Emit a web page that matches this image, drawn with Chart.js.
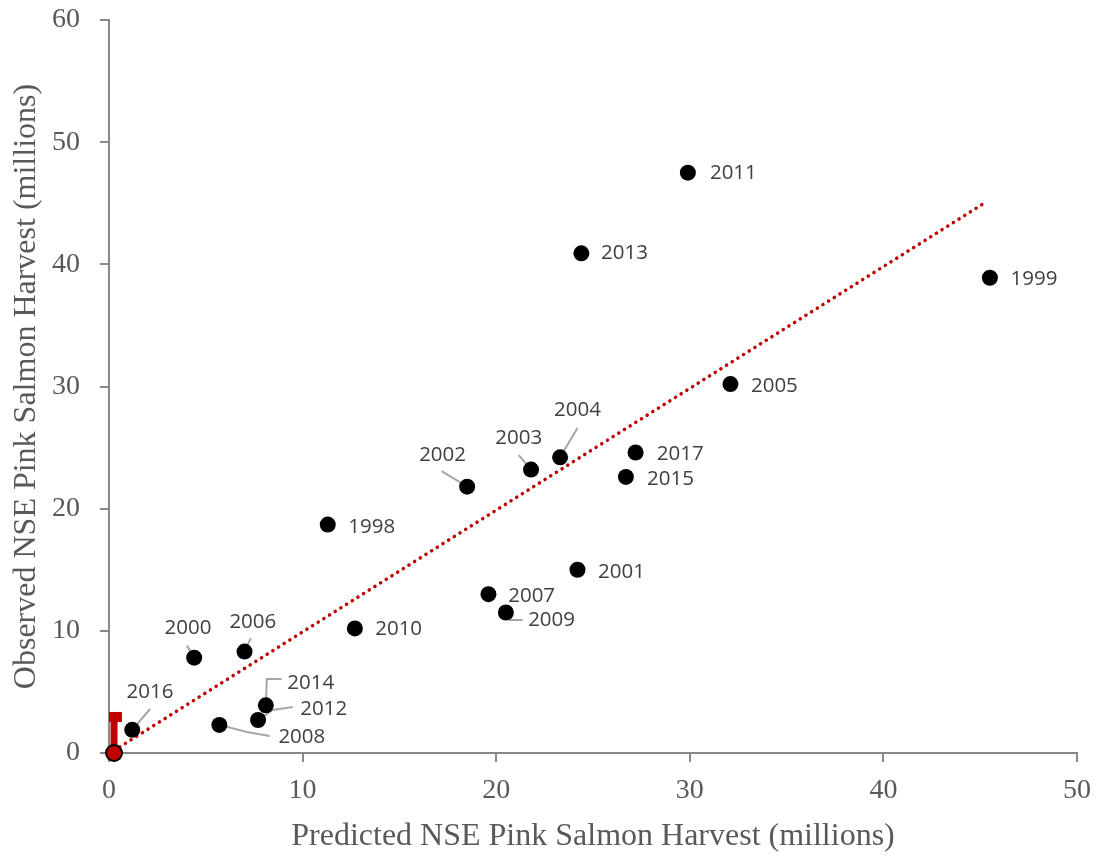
<!DOCTYPE html>
<html lang="en">
<head>
  <meta charset="UTF-8">
  <title>NSE Pink Salmon Harvest</title>
  <script src="https://cdn.jsdelivr.net/npm/chart.js"></script>
  <style>
    body { margin: 0; background: #ffffff; }
  </style>
</head>
<body>
  <canvas id="harvestChart" width="1103" height="856"></canvas>
  <script>
    // values (millions)
    const years     = [1998, 1999, 2000, 2001, 2002, 2003, 2004, 2005, 2006, 2007, 2008, 2009, 2010, 2011, 2012, 2013, 2014, 2015, 2016, 2017];
    const predicted = [11.3, 45.5, 4.4, 24.2, 18.5, 21.8, 23.3, 32.1, 7.0, 19.6, 5.7, 20.5, 12.7, 29.9, 7.7, 24.4, 8.1, 26.7, 1.2, 27.2];
    const observed  = [18.7, 38.9, 7.8, 15.0, 21.8, 23.2, 24.2, 30.2, 8.3, 13.0, 2.3, 11.5, 10.2, 47.5, 2.7, 40.9, 3.9, 22.6, 1.9, 24.6];

    // where each year label sits (data units, text centre)
    const labelX = [13.57, 47.78, 4.08, 26.47, 17.23, 21.16, 24.2, 34.37, 7.43, 21.83, 9.96, 22.86, 14.96, 32.25, 11.09, 26.63, 10.42, 29.0, 2.12, 29.51];
    const labelY = [18.49, 38.79, 10.23, 14.81, 24.39, 25.78, 28.07, 30.03, 10.72, 12.85, 1.31, 10.88, 10.15, 47.46, 3.6, 40.92, 5.73, 22.42, 4.99, 24.47];

    // leader lines: start near the label, end at the point
    const leaders = {
      2016: [[2.12, 3.6]],
      2000: [[4.02, 8.8]],
      2006: [[7.33, 9.4]],
      2014: [[8.92, 6.05], [8.15, 6.05]],
      2012: [[9.49, 3.76], [8.46, 3.52]],
      2008: [[8.31, 1.39], [7.12, 1.72]],
      2002: [[17.18, 23.08]],
      2003: [[21.16, 24.39]],
      2004: [[24.2, 26.6]],
      2009: [[21.36, 10.88], [20.7, 10.88]]
    };

    // red marker at the origin with its bar
    const originPoint = [0.26, 0];
    const errorStem = [[0.26, 0], [0.26, 3.35]];
    const errorCap = [[0.0, 2.95], [0.67, 2.95]];

    // dotted trend line
    const trendX = [0.26, 45.3];
    const trendY = [0.2, 45.1];

    const xTicks = [0, 10, 20, 30, 40, 50];
    const yTicks = [0, 10, 20, 30, 40, 50, 60];

    const axisGrey = '#898989';
    const textGrey = '#595959';
    const red = '#c00000';

    const labelPlugin = {
      id: 'yearLabels',
      beforeDatasetsDraw(chart) {
        const ctx = chart.ctx;
        const xs = chart.scales.x, ys = chart.scales.y;
        ctx.save();
        ctx.strokeStyle = '#a6a6a6';
        ctx.lineWidth = 2;
        years.forEach((yr, i) => {
          const path = leaders[yr];
          if (!path) return;
          ctx.beginPath();
          path.forEach((p, j) => {
            const px = xs.getPixelForValue(p[0]), py = ys.getPixelForValue(p[1]);
            if (j === 0) ctx.moveTo(px, py); else ctx.lineTo(px, py);
          });
          ctx.lineTo(xs.getPixelForValue(predicted[i]), ys.getPixelForValue(observed[i]));
          ctx.stroke();
        });
        ctx.restore();
      },
      afterDatasetsDraw(chart) {
        const ctx = chart.ctx;
        const xs = chart.scales.x, ys = chart.scales.y;
        ctx.save();
        ctx.fillStyle = '#404040';
        ctx.font = '20.5px "Open Sans"';
        ctx.textAlign = 'center';
        ctx.textBaseline = 'middle';
        years.forEach((yr, i) => {
          ctx.fillText(String(yr), xs.getPixelForValue(labelX[i]), ys.getPixelForValue(labelY[i]));
        });
        ctx.restore();
      }
    };

    const ctx = document.getElementById('harvestChart');
    new Chart(ctx, {
      type: 'scatter',
      data: {
        datasets: [
          {
            label: 'origin',
            data: [{ x: originPoint[0], y: originPoint[1] }],
            pointRadius: 8,
            pointBackgroundColor: red,
            pointBorderColor: '#000000',
            pointBorderWidth: 2,
            clip: false,
            order: 0
          },
          {
            label: 'harvest',
            data: predicted.map((v, i) => ({ x: v, y: observed[i] })),
            pointRadius: 8,
            pointBackgroundColor: '#000000',
            pointBorderColor: '#000000',
            pointBorderWidth: 0,
            clip: false,
            order: 1
          },
          {
            label: 'stem',
            type: 'line',
            data: errorStem.map(p => ({ x: p[0], y: p[1] })),
            borderColor: red,
            borderWidth: 7,
            pointRadius: 0,
            clip: false,
            order: 2
          },
          {
            label: 'cap',
            type: 'line',
            data: errorCap.map(p => ({ x: p[0], y: p[1] })),
            borderColor: red,
            borderWidth: 10,
            pointRadius: 0,
            clip: false,
            order: 2
          },
          {
            label: 'trend',
            type: 'line',
            data: trendX.map((v, i) => ({ x: v, y: trendY[i] })),
            borderColor: red,
            borderWidth: 3.5,
            borderDash: [0.1, 6.6],
            borderCapStyle: 'round',
            pointRadius: 0,
            clip: false,
            order: 3
          }
        ]
      },
      options: {
        responsive: false,
        animation: false,
        devicePixelRatio: 1,
        layout: { padding: { top: 20, right: 25, left: 7, bottom: 0 } },
        plugins: {
          legend: { display: false },
          tooltip: { enabled: false }
        },
        scales: {
          x: {
            type: 'linear',
            min: 0,
            max: 50,
            afterBuildTicks: s => { s.ticks = xTicks.map(v => ({ value: v })); },
            afterFit: s => { s.height = 103; },
            border: { color: axisGrey, width: 2 },
            grid: { drawOnChartArea: false, color: axisGrey, lineWidth: 2, tickLength: 9 },
            ticks: { color: textGrey, font: { family: '"Liberation Serif"', size: 28 }, padding: 12 },
            title: {
              display: true,
              text: 'Predicted NSE Pink Salmon Harvest (millions)',
              color: textGrey,
              font: { family: '"Liberation Serif"', size: 32 },
              padding: { top: 0, bottom: 0 }
            }
          },
          y: {
            type: 'linear',
            min: 0,
            max: 60,
            afterBuildTicks: s => { s.ticks = yTicks.map(v => ({ value: v })); },
            afterFit: s => { s.width = 102; s.paddingTop = 0; s.paddingBottom = 0; },
            border: { color: axisGrey, width: 2 },
            grid: { drawOnChartArea: false, color: axisGrey, lineWidth: 2, tickLength: 9 },
            ticks: { color: textGrey, font: { family: '"Liberation Serif"', size: 28 }, padding: 20 },
            title: {
              display: true,
              text: 'Observed NSE Pink Salmon Harvest (millions)',
              color: textGrey,
              font: { family: '"Liberation Serif"', size: 32 },
              padding: { top: 0, bottom: 0 }
            }
          }
        }
      },
      plugins: [labelPlugin]
    });
  </script>
</body>
</html>
